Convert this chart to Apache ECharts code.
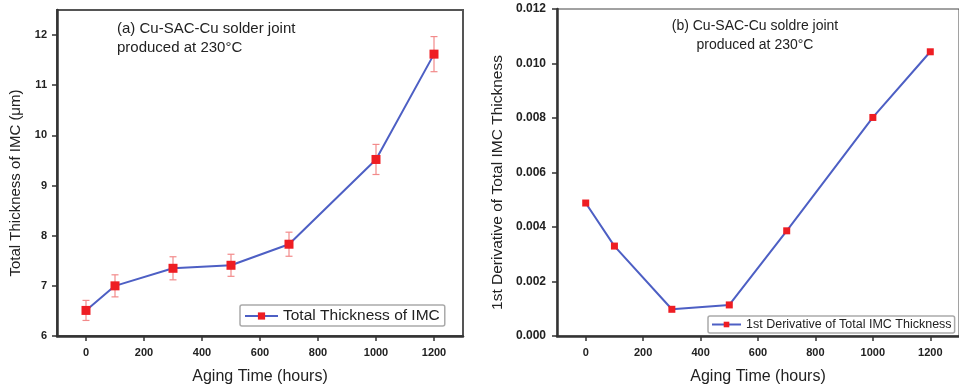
<!DOCTYPE html>
<html>
<head>
<meta charset="utf-8">
<title>IMC thickness vs aging time</title>
<script src="https://cdn.jsdelivr.net/npm/echarts@6/dist/echarts.min.js"></script>
<style>
  html, body { margin: 0; padding: 0; background: #fff; }
  #chart { width: 959px; height: 392px; }
</style>
</head>
<body>
<div id="chart"></div>
<script>
// aging time, hours
const agingHours = [0, 100, 300, 500, 700, 1000, 1200];
// (a) total IMC thickness, um, and its error bar half-width
const totalThickness = [6.51, 7.0, 7.35, 7.41, 7.83, 9.52, 11.62];
const thicknessErr = [0.2, 0.22, 0.23, 0.22, 0.24, 0.3, 0.35];
// (b) first derivative of total thickness
const derivative = [0.00488, 0.0033, 0.00098, 0.00114, 0.00386, 0.00802, 0.01043];

const xTicks = [0, 200, 400, 600, 800, 1000, 1200];
const yTicksA = [6, 7, 8, 9, 10, 11, 12];

const FONT = "'Liberation Sans', Arial, Helvetica, sans-serif";
const LINE_COLOR = "#4d5fc4";
const MARK_COLOR = "#ee1d23";
const AXIS_COLOR = "#333";

const chart = echarts.init(document.getElementById("chart"));

const xAxisBase = (gridIndex) => ({
  type: "value",
  gridIndex,
  min: -100,
  max: 1300,
  name: "Aging Time (hours)",
  nameLocation: "middle",
  nameGap: 33,
  nameTextStyle: { fontFamily: FONT, fontSize: 16, color: "#222" },
  axisLine: { show: true, onZero: false, lineStyle: { color: AXIS_COLOR, width: 2.5 } },
  axisTick: { show: true, length: 5, customValues: xTicks, lineStyle: { color: AXIS_COLOR, width: 1.5 } },
  axisLabel: {
    customValues: xTicks, margin: 11, fontFamily: FONT, fontSize: 11, fontWeight: "bold", color: "#222",
    formatter: (v) => String(v),
  },
  splitLine: { show: false },
});

const errorBarItem = (params, api) => {
  const x = api.value(0);
  const lo = api.coord([x, api.value(1)]);
  const hi = api.coord([x, api.value(2)]);
  const cap = 3.5;
  const style = { stroke: "#f28a8a", lineWidth: 1.2 };
  return {
    type: "group",
    children: [
      { type: "line", shape: { x1: lo[0], y1: lo[1], x2: hi[0], y2: hi[1] }, style },
      { type: "line", shape: { x1: lo[0] - cap, y1: lo[1], x2: lo[0] + cap, y2: lo[1] }, style },
      { type: "line", shape: { x1: hi[0] - cap, y1: hi[1], x2: hi[0] + cap, y2: hi[1] }, style },
    ],
  };
};

const option = {
  animation: false,
  backgroundColor: "#fff",
  textStyle: { fontFamily: FONT },
  grid: [
    { left: 57, top: 10, width: 406, height: 326, show: true, borderColor: "#555", borderWidth: 2 },
    { left: 557, top: 9, width: 408, height: 327, show: true, borderColor: "#444", borderWidth: 1 },
  ],
  xAxis: [xAxisBase(0), xAxisBase(1)],
  yAxis: [
    {
      type: "value",
      gridIndex: 0,
      min: 6,
      max: 12.5,
      name: "Total Thickness of IMC (\u03bcm)",
      nameLocation: "middle",
      nameGap: 34,
      nameTextStyle: { fontFamily: FONT, fontSize: 15, color: "#222", padding: [0, 20, 0, 0] },
      axisLine: { show: true, onZero: false, lineStyle: { color: AXIS_COLOR, width: 2.5 } },
      axisTick: { show: true, length: 5, customValues: yTicksA, lineStyle: { color: AXIS_COLOR, width: 1.5 } },
      axisLabel: { customValues: yTicksA, margin: 10, fontFamily: FONT, fontSize: 11, fontWeight: "bold", color: "#222" },
      splitLine: { show: false },
    },
    {
      type: "value",
      gridIndex: 1,
      min: 0,
      max: 0.012,
      interval: 0.002,
      name: "1st Derivative of Total IMC Thickness",
      nameLocation: "middle",
      nameGap: 51,
      nameTextStyle: { fontFamily: FONT, fontSize: 15.5, color: "#222", padding: [0, 20, 0, 0] },
      axisLine: { show: true, onZero: false, lineStyle: { color: AXIS_COLOR, width: 2.5 } },
      axisTick: { show: true, length: 5, lineStyle: { color: AXIS_COLOR, width: 1.5 } },
      axisLabel: {
        margin: 11, fontFamily: FONT, fontSize: 12, fontWeight: "bold", color: "#222",
        formatter: (v) => v.toFixed(3),
      },
      splitLine: { show: false },
    },
  ],
  legend: [
    {
      data: ["Total Thickness of IMC"],
      left: 240, top: 305,
      padding: [3, 5, 2, 4],
      itemWidth: 33, itemHeight: 9, itemGap: 6,
      borderColor: "#aaa", borderWidth: 1.5, borderRadius: 2,
      backgroundColor: "#fff",
      textStyle: { fontFamily: FONT, fontSize: 15.5, color: "#222" },
    },
    {
      data: ["1st Derivative of Total IMC Thickness"],
      left: 708, top: 316,
      padding: [2, 3, 2, 3],
      itemWidth: 29, itemHeight: 7, itemGap: 5,
      borderColor: "#aaa", borderWidth: 1.5, borderRadius: 2,
      backgroundColor: "#fff",
      textStyle: { fontFamily: FONT, fontSize: 12.5, color: "#222" },
    },
  ],
  graphic: [
    {
      type: "text", x: 117, y: 19,
      style: {
        text: "(a) Cu-SAC-Cu solder joint\nproduced at 230\u00b0C",
        font: "15px " + FONT, fill: "#222", lineHeight: 19,
      },
    },
    {
      type: "text", x: 755, y: 17,
      style: {
        text: "(b) Cu-SAC-Cu soldre joint\nproduced at 230\u00b0C",
        font: "14px " + FONT, fill: "#222", lineHeight: 19, align: "center",
      },
    },
  ],
  series: [
    {
      type: "custom",
      xAxisIndex: 0,
      yAxisIndex: 0,
      renderItem: errorBarItem,
      data: agingHours.map((h, i) => [h, totalThickness[i] - thicknessErr[i], totalThickness[i] + thicknessErr[i]]),
      silent: true,
    },
    {
      name: "Total Thickness of IMC",
      type: "line",
      xAxisIndex: 0,
      yAxisIndex: 0,
      data: agingHours.map((h, i) => [h, totalThickness[i]]),
      symbol: "rect",
      symbolSize: 9,
      itemStyle: { color: MARK_COLOR },
      lineStyle: { color: LINE_COLOR, width: 2 },
    },
    {
      name: "1st Derivative of Total IMC Thickness",
      type: "line",
      xAxisIndex: 1,
      yAxisIndex: 1,
      data: agingHours.map((h, i) => [h, derivative[i]]),
      symbol: "rect",
      symbolSize: 7,
      itemStyle: { color: MARK_COLOR },
      lineStyle: { color: LINE_COLOR, width: 2 },
    },
  ],
};

chart.setOption(option);
</script>
</body>
</html>
